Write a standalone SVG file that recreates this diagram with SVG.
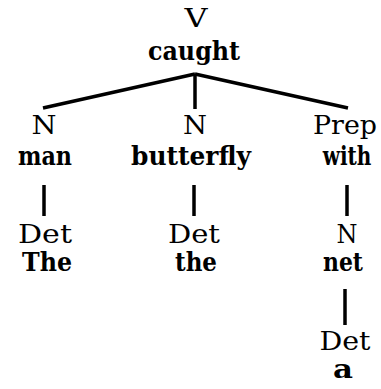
<svg xmlns="http://www.w3.org/2000/svg" width="381" height="389" viewBox="0 0 381 389">
  <style>
    text { font-family: "DejaVu Serif", serif; font-size: 26px; fill: #000; text-anchor: middle; }
    .cat { font-weight: normal; }
    .word { font-weight: bold; }
    .edge { stroke: #000; stroke-width: 3.5; fill: none; stroke-linecap: butt; }
  </style>
  <rect width="381" height="389" fill="#fff"/>

  <!-- connectors -->
  <g id="connectors">
    <line class="edge" x1="195" y1="74" x2="43" y2="108"/>
    <line class="edge" x1="195" y1="74" x2="195" y2="109"/>
    <line class="edge" x1="195" y1="74" x2="348" y2="108"/>
    <line class="edge" x1="44" y1="185" x2="44" y2="216"/>
    <line class="edge" x1="194" y1="185" x2="194" y2="216"/>
    <line class="edge" x1="347" y1="185" x2="347" y2="216"/>
    <line class="edge" x1="345" y1="289" x2="345" y2="325"/>
  </g>

  <!-- root: verb -->
  <g id="node-caught">
    <text class="cat" x="196" y="27" textLength="23" lengthAdjust="spacingAndGlyphs">V</text>
    <text class="word" x="194" y="60" textLength="92" lengthAdjust="spacingAndGlyphs">caught</text>
  </g>

  <!-- subject noun -->
  <g id="node-man">
    <text class="cat" x="44" y="134" textLength="25" lengthAdjust="spacingAndGlyphs">N</text>
    <text class="word" x="45" y="165" textLength="54" lengthAdjust="spacingAndGlyphs">man</text>
  </g>

  <!-- object noun -->
  <g id="node-butterfly">
    <text class="cat" x="195" y="134" textLength="24" lengthAdjust="spacingAndGlyphs">N</text>
    <text class="word" x="191" y="165" textLength="120" lengthAdjust="spacingAndGlyphs">butterfly</text>
  </g>

  <!-- preposition -->
  <g id="node-with">
    <text class="cat" x="345" y="134" textLength="64" lengthAdjust="spacingAndGlyphs">Prep</text>
    <text class="word" transform="translate(347 165) scale(0.77 1)" x="0" y="0">with</text>
  </g>

  <!-- determiners -->
  <g id="node-The">
    <text class="cat" x="45" y="243" textLength="54" lengthAdjust="spacingAndGlyphs">Det</text>
    <text class="word" x="47" y="271" textLength="50" lengthAdjust="spacingAndGlyphs">The</text>
  </g>

  <g id="node-the">
    <text class="cat" x="194" y="243" textLength="52" lengthAdjust="spacingAndGlyphs">Det</text>
    <text class="word" x="196" y="271" textLength="42" lengthAdjust="spacingAndGlyphs">the</text>
  </g>

  <!-- prepositional object -->
  <g id="node-net">
    <text class="cat" x="347" y="243" textLength="21" lengthAdjust="spacingAndGlyphs">N</text>
    <text class="word" x="343" y="271" textLength="40" lengthAdjust="spacingAndGlyphs">net</text>
  </g>

  <g id="node-a">
    <text class="cat" x="345" y="350" textLength="51" lengthAdjust="spacingAndGlyphs">Det</text>
    <text class="word" x="343" y="378" textLength="20" lengthAdjust="spacingAndGlyphs">a</text>
  </g>
</svg>
